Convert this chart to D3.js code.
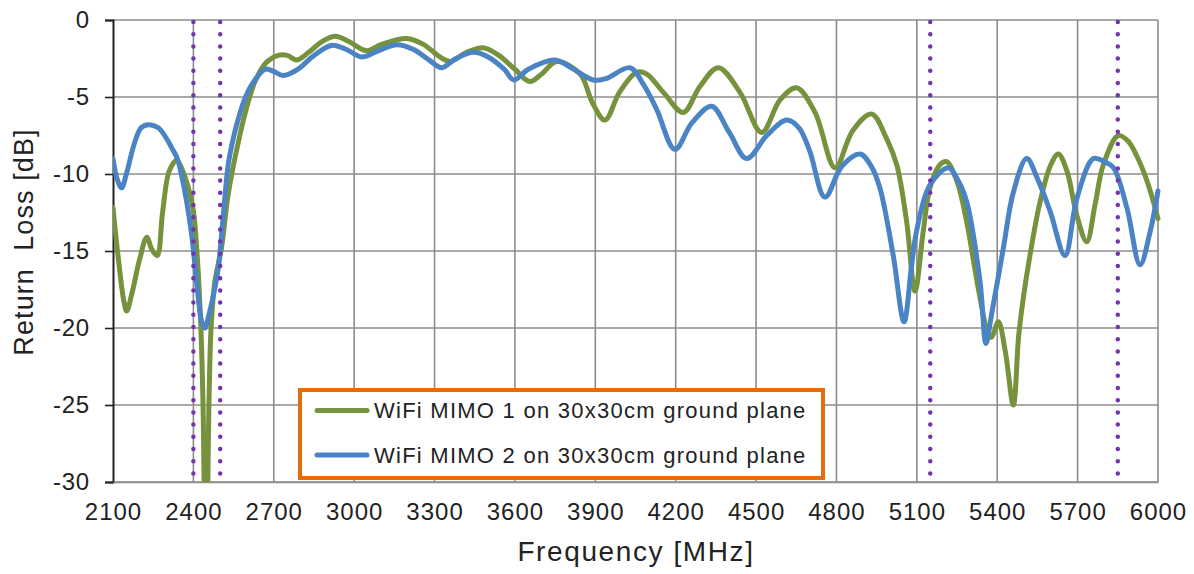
<!DOCTYPE html>
<html>
<head>
<meta charset="utf-8">
<script src="https://cdn.jsdelivr.net/npm/d3@7"></script>
<style>
  html, body { margin: 0; padding: 0; background: #fff; }
  svg { display: block; font-family: "Liberation Sans", Arial, sans-serif; }
</style>
</head>
<body>
<svg id="chart" width="1194" height="574"></svg>
<script>
// ---------------- data ----------------
const seriesNames = ["WiFi MIMO 1 on 30x30cm ground plane", "WiFi MIMO 2 on 30x30cm ground plane"];

const freq1 = [2100, 2120, 2140, 2151, 2170, 2200, 2226, 2245, 2265, 2285, 2310, 2338, 2360, 2380, 2400,
  2415, 2428, 2436, 2447, 2458, 2466, 2480, 2505, 2530, 2568, 2600, 2630, 2670, 2717, 2750, 2786, 2830,
  2880, 2930, 2980, 3047, 3100, 3196, 3260, 3320, 3358, 3420, 3482, 3540, 3600, 3656, 3700, 3756, 3843,
  3890, 3936, 3990, 4054, 4091, 4154, 4228, 4291, 4359, 4440, 4521, 4589, 4651, 4720, 4795, 4860, 4931,
  4987, 5025, 5062, 5093, 5124, 5149, 5186, 5211, 5250, 5286, 5330, 5365, 5379, 5404, 5430, 5460, 5480,
  5497, 5522, 5560, 5600, 5628, 5660, 5697, 5734, 5765, 5796, 5852, 5890, 5920, 5960, 6000];
const rl1 = [-12.2, -15.5, -18.2, -18.9, -17.8, -15.5, -14.1, -14.9, -15.3, -12.5, -9.8, -9.1, -9.8, -10.8, -12.4,
  -15.5, -20, -25, -38, -25, -20, -17, -14.8, -11.3, -7.9, -5.6, -4.0, -2.8, -2.3, -2.3, -2.6, -2.1,
  -1.4, -1.05, -1.4, -2.0, -1.6, -1.2, -1.6, -2.4, -2.7, -2.1, -1.8, -2.3, -3.2, -4.0, -3.5, -2.7, -3.5,
  -5.4, -6.5, -4.7, -3.4, -3.5, -4.7, -6.0, -4.3, -3.1, -4.7, -7.3, -5.2, -4.4, -6.0, -9.6, -7.2, -6.1,
  -7.7, -9.4, -13.1, -17.6, -13.7, -10.9, -9.4, -9.2, -10.5, -13.1, -17.5, -20.3, -20.6, -19.6, -21.5, -25.0, -20.5,
  -18.1, -15.3, -11.8, -9.4, -8.7, -9.8, -12.7, -14.4, -12.0, -9.4, -7.5, -7.9, -8.8, -10.5, -12.9];

const freq2 = [2100, 2115, 2132, 2150, 2180, 2205, 2232, 2269, 2300, 2319, 2340, 2356, 2375, 2394, 2415,
  2430, 2443, 2460, 2478, 2493, 2510, 2530, 2550, 2568, 2590, 2618, 2667, 2695, 2734, 2770, 2798, 2850,
  2915, 2970, 3028, 3090, 3160, 3220, 3280, 3327, 3380, 3445, 3500, 3560, 3596, 3650, 3750, 3810, 3893,
  3940, 4030, 4080, 4129, 4197, 4260, 4334, 4400, 4465, 4540, 4614, 4660, 4700, 4757, 4820, 4888, 4930,
  4962, 5012, 5052, 5080, 5099, 5149, 5218, 5250, 5286, 5336, 5358, 5380, 5423, 5460, 5510, 5550, 5597,
  5653, 5697, 5759, 5800, 5834, 5884, 5933, 5970, 6000];
const rl2 = [-9.0, -10.3, -10.9, -10.0, -8.0, -7.0, -6.8, -7.0, -7.7, -8.3, -9.0, -10.1, -11.8, -14.0, -17.5,
  -19.5, -20.0, -19.0, -17.6, -16.1, -13.0, -9.4, -7.6, -6.4, -5.2, -4.2, -3.2, -3.3, -3.6, -3.4, -3.1, -2.3,
  -1.65, -1.9, -2.4, -2.0, -1.6, -1.9, -2.6, -3.1, -2.5, -2.1, -2.4, -3.2, -3.9, -3.2, -2.6, -3.1, -3.9,
  -3.8, -3.1, -4.2, -5.8, -8.4, -6.7, -5.6, -7.3, -9.0, -7.5, -6.5, -7.0, -8.5, -11.5, -9.5, -8.7, -9.5,
  -10.9, -15.3, -19.6, -16.0, -13.7, -10.7, -9.6, -10.3, -11.8, -17.0, -21.0, -19.0, -14.8, -11.2, -9.0, -10.3, -12.4,
  -15.3, -11.6, -9.0, -9.2, -9.6, -12.2, -15.9, -13.8, -11.1];

const xTicks = [2100, 2400, 2700, 3000, 3300, 3600, 3900, 4200, 4500, 4800, 5100, 5400, 5700, 6000];
const yTicks = [0, -5, -10, -15, -20, -25, -30];
const bandEdges = [2400, 2500, 5150, 5850];
const xTitle = "Frequency [MHz]";
const yTitle = "Return  Loss [dB]";

// ---------------- layout ----------------
const L = 113, R = 1158, T = 20, B = 482;
const colors = ["#76923C", "#4A84C4"];
const svg = d3.select("#chart");

const x = d3.scaleLinear().domain([2100, 6000]).range([L, R]);
const y = d3.scaleLinear().domain([-30, 0]).range([B, T]);

// clip
svg.append("defs").append("clipPath").attr("id", "plotclip")
  .append("rect").attr("x", L).attr("y", T - 4).attr("width", R - L + 4).attr("height", B - T + 4);

// gridlines
const grid = svg.append("g");
grid.selectAll("line.v").data(xTicks.filter(d => d !== 2100)).join("line")
  .attr("x1", d => x(d)).attr("x2", d => x(d)).attr("y1", T).attr("y2", B)
  .attr("stroke", "#8c8c8c").attr("stroke-width", 1.6);
grid.selectAll("line.h").data(yTicks).join("line")
  .attr("x1", L).attr("x2", R).attr("y1", d => y(d)).attr("y2", d => y(d))
  .attr("stroke", "#8c8c8c").attr("stroke-width", 1.6);

// axes
const yAxis = svg.append("g").attr("transform", `translate(${L},0)`)
  .call(d3.axisLeft(y).tickValues(yTicks).tickSize(8).tickPadding(15).tickFormat(d => String(d)));
yAxis.select(".domain").attr("stroke", "#222").attr("stroke-width", 2);
yAxis.selectAll(".tick line").attr("stroke", "#222").attr("stroke-width", 1.6);
yAxis.selectAll("text").attr("font-size", 24).attr("fill", "#222").attr("letter-spacing", 0.8)
  .attr("font-family", "'Liberation Sans', Arial, sans-serif");

const xAxis = svg.append("g").attr("transform", `translate(0,${B})`)
  .call(d3.axisBottom(x).tickValues(xTicks).tickSize(0).tickPadding(21).tickFormat(d => String(d)));
xAxis.select(".domain").attr("stroke", "#8c8c8c").attr("stroke-width", 1.6);
xAxis.selectAll("text").attr("font-size", 24).attr("fill", "#222").attr("letter-spacing", 1)
  .attr("font-family", "'Liberation Sans', Arial, sans-serif");

// series
const line = d3.line().x(d => x(d[0])).y(d => y(d[1])).curve(d3.curveCatmullRom.alpha(0.5));
const s1 = freq1.map((f, i) => [f, rl1[i]]);
const s2 = freq2.map((f, i) => [f, rl2[i]]);
const plot = svg.append("g").attr("clip-path", "url(#plotclip)");
[s1, s2].forEach((s, i) => {
  plot.append("path").datum(s).attr("d", line)
    .attr("fill", "none").attr("stroke", colors[i]).attr("stroke-width", 5)
    .attr("stroke-linejoin", "round").attr("stroke-linecap", "round");
});

// band edge markers
svg.append("g").selectAll("line").data(bandEdges).join("line")
  .attr("x1", d => x(d)).attr("x2", d => x(d)).attr("y1", T + 2).attr("y2", B)
  .attr("stroke", "#7434B0").attr("stroke-width", 4.5)
  .attr("stroke-linecap", "round").attr("stroke-dasharray", "0 12.2");

// legend
const lg = svg.append("g");
lg.append("rect").attr("x", 300).attr("y", 390).attr("width", 523).attr("height", 88)
  .attr("fill", "#fff").attr("stroke", "#E46C0A").attr("stroke-width", 4);
seriesNames.forEach((name, i) => {
  const cy = 410.5 + i * 44.5;
  lg.append("line").attr("x1", 317).attr("x2", 367).attr("y1", cy).attr("y2", cy)
    .attr("stroke", colors[i]).attr("stroke-width", 5).attr("stroke-linecap", "round");
  lg.append("text").attr("x", 374).attr("y", cy + 7.5).text(name)
    .attr("font-size", 22).attr("fill", "#222").attr("letter-spacing", 1.25);
});

// titles
svg.append("text").attr("x", 636).attr("y", 561).attr("text-anchor", "middle")
  .attr("font-size", 28).attr("fill", "#222").attr("letter-spacing", 1.6).text(xTitle);
svg.append("text").attr("transform", "translate(33,242) rotate(-90)").attr("text-anchor", "middle")
  .attr("font-size", 27).attr("fill", "#222").attr("letter-spacing", 1.1)
  .style("white-space", "pre").text(yTitle);
</script>
</body>
</html>
